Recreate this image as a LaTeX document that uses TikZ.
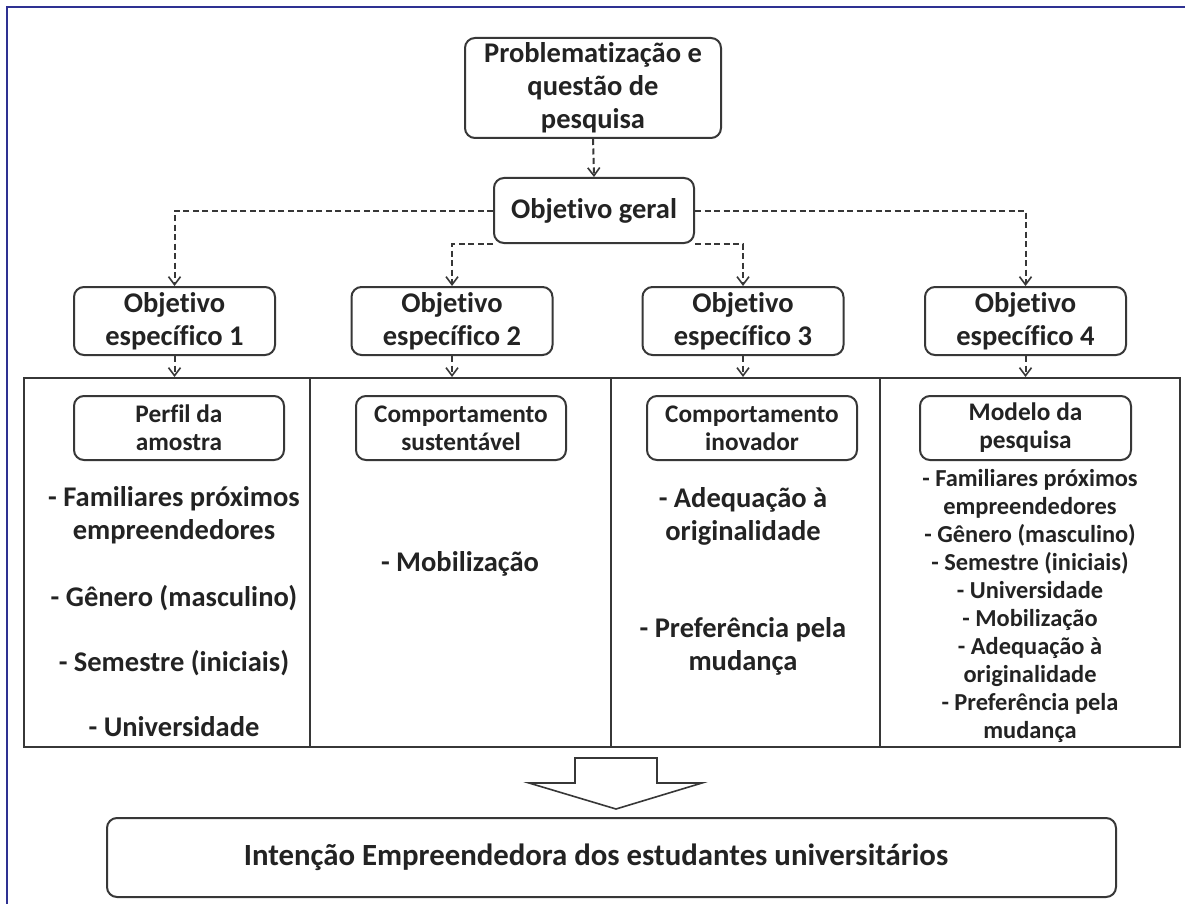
\documentclass[tikz,border=0pt]{standalone}
\usepackage{fontspec}
\setmainfont[Ligatures=NoCommon]{Carlito}
\usetikzlibrary{arrows.meta}
\definecolor{framebl}{RGB}{46,49,146}
\definecolor{linegr}{RGB}{55,55,55}
\definecolor{textgr}{RGB}{35,35,35}

\begin{document}
\begin{tikzpicture}[x=1pt,y=-1pt,
	box/.style={draw=linegr,line width=2pt,rounded corners=10pt,align=center,inner sep=0pt,text=textgr},
	dasharr/.style={draw=linegr,line width=2pt,dash pattern=on 6pt off 3.5pt,-{Straight Barb[length=8pt,width=12pt,line width=1.6pt]}},
	big/.style={font=\bfseries\fontsize{28.5}{33}\selectfont},
	mid/.style={font=\bfseries\fontsize{25.3}{28}\selectfont},
	small/.style={font=\bfseries\fontsize{24.4}{28}\selectfont},
	item/.style={align=center,inner sep=0pt,text=textgr}]
	\useasboundingbox (0,0) rectangle (1185,904);
	\fill[white] (0,0) rectangle (1185,904);
	\draw[framebl,line width=2pt] (7,904) -- (7,7) -- (1185,7);

	\node[box,big,minimum width=256,minimum height=100] (top) at (593,88) {Problematização e\\questão de\\pesquisa};
	\node[box,big,minimum width=200,minimum height=65] (geral) at (594,210.5) {Objetivo geral};

	\node[box,big,minimum width=201,minimum height=68] (s1) at (174.5,321) {Objetivo\\específico 1};
	\node[box,big,minimum width=201,minimum height=68] (s2) at (452,321) {Objetivo\\específico 2};
	\node[box,big,minimum width=201,minimum height=68] (s3) at (743,321) {Objetivo\\específico 3};
	\node[box,big,minimum width=201,minimum height=68] (s4) at (1025.5,321) {Objetivo\\específico 4};

	\draw[dasharr] (top.south) -- (geral.north);
	\draw[dasharr] (geral.west) -| (s1.north);
	\draw[dasharr] (geral.east) -| (s4.north);
	\draw[dasharr] (geral.south west) -| (s2.north);
	\draw[dasharr] (geral.south east) -| (s3.north);

	% quadro das variaveis
	\node[draw=linegr,line width=2pt,minimum width=1156,minimum height=369,inner sep=0pt] (tab) at (602,562.5) {};
	\foreach \cx in {310,611,880}
		\draw[linegr,line width=2pt] (\cx,378) -- (\cx,747);
	\foreach \s in {s1,s2,s3,s4}
		\draw[dasharr] (\s.south) -- (\s.south |- tab.north);

	\node[box,mid,minimum width=210,minimum height=64] (perfil) at (179,428) {Perfil da\\amostra};
	\node[box,mid,minimum width=210,minimum height=64] (sust) at (461,428) {Comportamento\\sustentável};
	\node[box,mid,minimum width=210,minimum height=64] (inov) at (752,428) {Comportamento\\inovador};
	\node[box,mid,minimum width=211,minimum height=64] (modelo) at (1025.5,428) {Modelo da\\pesquisa};

	\node[item,big] (c1a) at (174,515.5) {- Familiares próximos\\empreendedores};
	\node[item,big] (c1b) at (174,598) {- Gênero (masculino)};
	\node[item,big] (c1c) at (174,663) {- Semestre (iniciais)};
	\node[item,big] (c1d) at (174,727) {- Universidade};

	\node[item,big] (c2a) at (460,564) {- Mobilização};

	\node[item,big] (c3a) at (743,516) {- Adequação à\\originalidade};
	\node[item,big] (c3b) at (743,646.5) {- Preferência pela\\mudança};

	\node[item,small] (c4) at (1030,606) {- Familiares próximos\\empreendedores\\- Gênero (masculino)\\- Semestre (iniciais)\\- Universidade\\- Mobilização\\- Adequação à\\originalidade\\- Preferência pela\\mudança};

	% seta larga
	\draw[linegr,line width=1.6pt,line join=miter] (575,758) -- (657,758) -- (657,783) -- (702,783) -- (616,809) -- (529,783) -- (575,783) -- cycle;

	\node[box,minimum width=1009,minimum height=79] (fim) at (611.5,857.5) {};
	\node[item,font=\bfseries\fontsize{30.8}{34}\selectfont] (fimtxt) at (596,857.5) {Intenção Empreendedora dos estudantes universitários};
\end{tikzpicture}
\end{document}
